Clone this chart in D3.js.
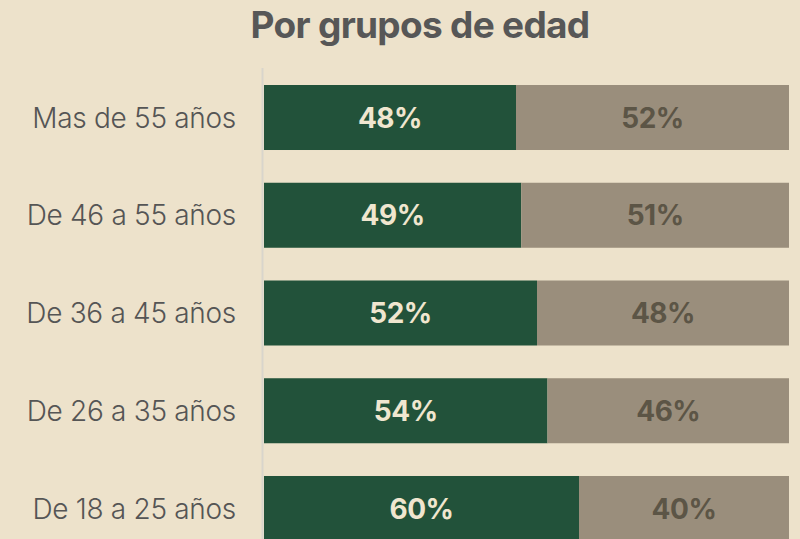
<!DOCTYPE html>
<html>
<head>
<meta charset="utf-8">
<script src="https://cdn.jsdelivr.net/npm/d3@7"></script>
<style>
  body { margin: 0; background: #ede2cb; }
  svg { display: block; }
</style>
</head>
<body>
<div id="chart"></div>
<script>
// age groups, top to bottom
var groups = ["Mas de 55 años", "De 46 a 55 años", "De 36 a 45 años", "De 26 a 35 años", "De 18 a 25 años"];
// share in percent, first segment (green) and second segment (grey)
var first = [48, 49, 52, 54, 60];
var second = [52, 51, 48, 46, 40];

var width = 800, height = 539;

var svg = d3.select("#chart")
    .append("svg")
    .attr("width", width)
    .attr("height", height);

// title
svg.append("text")
    .attr("x", 420)
    .attr("y", 38)
    .attr("text-anchor", "middle")
    .style("font-family", "Inter, sans-serif")
    .style("font-weight", "700")
    .style("font-size", "37px")
    .style("letter-spacing", "-0.7px")
    .style("fill", "#575757")
    .text("Por grupos de edad");

var x = d3.scaleLinear()
    .domain([0, 100])
    .range([264, 789]);

var y = d3.scaleBand()
    .domain(groups)
    .range([85, 541])
    .paddingInner(0.335)
    .paddingOuter(0);

// thin baseline on the left
svg.append("line")
    .attr("x1", 262.5).attr("x2", 262.5)
    .attr("y1", 68).attr("y2", height)
    .attr("stroke", "#d9d5cc")
    .attr("stroke-width", 2);

var rows = groups.map(function (g, i) {
    return { group: g, a: first[i], b: second[i] };
});

var row = svg.selectAll(".row")
    .data(rows)
    .enter()
    .append("g")
    .attr("class", "row");

row.append("rect")
    .attr("x", x(0))
    .attr("y", function (d) { return y(d.group); })
    .attr("width", function (d) { return x(d.a) - x(0); })
    .attr("height", y.bandwidth())
    .attr("fill", "#22523a");

row.append("rect")
    .attr("x", function (d) { return x(d.a); })
    .attr("y", function (d) { return y(d.group); })
    .attr("width", function (d) { return x(d.a + d.b) - x(d.a); })
    .attr("height", y.bandwidth())
    .attr("fill", "#9a8e7c");

// value labels
row.append("text")
    .attr("x", function (d) { return x(d.a / 2); })
    .attr("y", function (d) { return y(d.group) + y.bandwidth() / 2; })
    .attr("dy", "0.36em")
    .attr("text-anchor", "middle")
    .style("font-family", "Inter, sans-serif")
    .style("font-weight", "700")
    .style("font-size", "28px")
    .style("letter-spacing", "-0.5px")
    .style("fill", "#f0e6cf")
    .text(function (d) { return d.a + "%"; });

row.append("text")
    .attr("x", function (d) { return x(d.a + d.b / 2); })
    .attr("y", function (d) { return y(d.group) + y.bandwidth() / 2; })
    .attr("dy", "0.36em")
    .attr("text-anchor", "middle")
    .style("font-family", "Inter, sans-serif")
    .style("font-weight", "700")
    .style("font-size", "28px")
    .style("letter-spacing", "-0.5px")
    .style("fill", "#5c5546")
    .text(function (d) { return d.b + "%"; });

// category labels
row.append("text")
    .attr("x", 236)
    .attr("y", function (d) { return y(d.group) + y.bandwidth() / 2; })
    .attr("dy", "0.36em")
    .attr("text-anchor", "end")
    .style("font-family", "Inter, sans-serif")
    .style("font-weight", "300")
    .style("font-size", "28px")
    .style("letter-spacing", "-0.3px")
    .style("fill", "#555555")
    .text(function (d) { return d.group; });
</script>
</body>
</html>
